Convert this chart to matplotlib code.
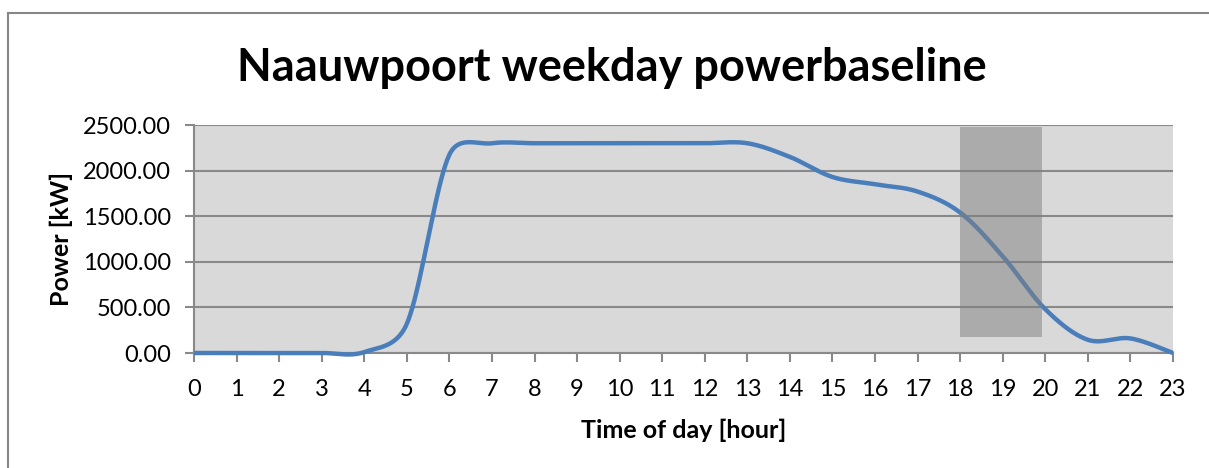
import numpy as np
import matplotlib
matplotlib.use("Agg")
import matplotlib.pyplot as plt
from matplotlib.patches import Rectangle
from matplotlib.lines import Line2D

# ---- data ----
hours = list(range(24))
power_kw = [0, 0, 0, 0, 10, 320, 2175, 2300, 2300, 2300, 2300, 2300, 2300,
            2300, 2150, 1930, 1850, 1770, 1540, 1060, 480, 145, 160, 0]
x_ticks = list(range(24))
y_ticks = [0, 500, 1000, 1500, 2000, 2500]
peak_start, peak_end = 18, 19.92
peak_low, peak_high = 170, 2480

title = "Naauwpoort weekday powerbaseline"
xlabel = "Time of day [hour]"
ylabel = "Power [kW]"

W, H = 1209, 468
AX_L, AX_R, AX_B, AX_T = 194, 1173, 353, 125


def excel_smooth(xs, ys, n=40):
    """Bezier smoothing similar to Excel's 'smoothed line'
    (Catmull-Rom control points, clamped to half the segment length)."""
    kx = (AX_R - AX_L) / 23.0
    ky = (AX_B - AX_T) / 2500.0
    P = np.column_stack([np.asarray(xs, float) * kx, np.asarray(ys, float) * ky])
    P = np.vstack([P[0], P, P[-1]])
    out = []
    t = np.linspace(0, 1, n, endpoint=False)[:, None]
    for i in range(1, len(P) - 2):
        p0, p1, p2, p3 = P[i - 1], P[i], P[i + 1], P[i + 2]
        d12 = np.linalg.norm(p2 - p1)
        v1 = (p2 - p0) / 6.0
        v2 = (p3 - p1) / 6.0
        n1, n2 = np.linalg.norm(v1), np.linalg.norm(v2)
        if n1 > d12 / 2:
            v1 = v1 * (d12 / 2) / n1
        if n2 > d12 / 2:
            v2 = v2 * (d12 / 2) / n2
        c1 = p1 + v1
        c2 = p2 - v2
        seg = ((1 - t) ** 3) * p1 + 3 * ((1 - t) ** 2) * t * c1 + 3 * (1 - t) * t**2 * c2 + t**3 * p2
        out.append(seg)
    out.append(P[-2][None, :])
    out = np.vstack(out)
    return out[:, 0] / kx, out[:, 1] / ky


plt.rcParams['font.family'] = ['Lato', 'DejaVu Sans']

fig = plt.figure(figsize=(W / 100, H / 100), dpi=100)
ax = fig.add_axes([AX_L / W, 1 - AX_B / H, (AX_R - AX_L) / W, (AX_B - AX_T) / H])

ax.set_facecolor('#D9D9D9')
ax.set_xlim(0, 23)
ax.set_ylim(0, 2500)
ax.set_xticks(x_ticks)
ax.set_xticklabels([str(v) for v in x_ticks])
ax.set_yticks(y_ticks)
ax.set_yticklabels([f"{v:.2f}" for v in y_ticks])
ax.grid(axis='y', color='#898989', linewidth=1.5, zorder=1)
ax.set_axisbelow(True)

sx, sy = excel_smooth(hours, power_kw)
ax.plot(sx, sy, color='#4A7EBB', linewidth=3.2, solid_capstyle='butt', zorder=3, clip_on=False)

ax.add_patch(Rectangle((peak_start, peak_low), peak_end - peak_start, peak_high - peak_low,
                       facecolor='#7F7F7F', alpha=0.5, edgecolor='none', zorder=4))

for s in ['top', 'right']:
    ax.spines[s].set_visible(False)
for s in ['left', 'bottom']:
    ax.spines[s].set_color('#898989')
    ax.spines[s].set_linewidth(1.5)

ax.tick_params(axis='both', direction='out', length=6.5, width=1.5, color='#898989',
               labelsize=17, labelcolor='black')
ax.tick_params(axis='x', pad=12)
ax.tick_params(axis='y', pad=10)

ax.set_xlabel(xlabel, fontsize=18, fontweight='bold', labelpad=14)
ax.set_ylabel(ylabel, fontsize=18, fontweight='bold', labelpad=7)

fig.text(612 / W, 1 - 68 / H, title, ha='center', va='center', fontsize=32.5, fontweight='bold')

# chart frame
fig.add_artist(Line2D([8 / W, 8 / W], [0, 1 - 13 / H], transform=fig.transFigure,
                      color='#868686', linewidth=1.5))
fig.add_artist(Line2D([8 / W, 1], [1 - 13 / H, 1 - 13 / H], transform=fig.transFigure,
                      color='#868686', linewidth=1.5))

fig.savefig('out.png', dpi=100, facecolor='white')
